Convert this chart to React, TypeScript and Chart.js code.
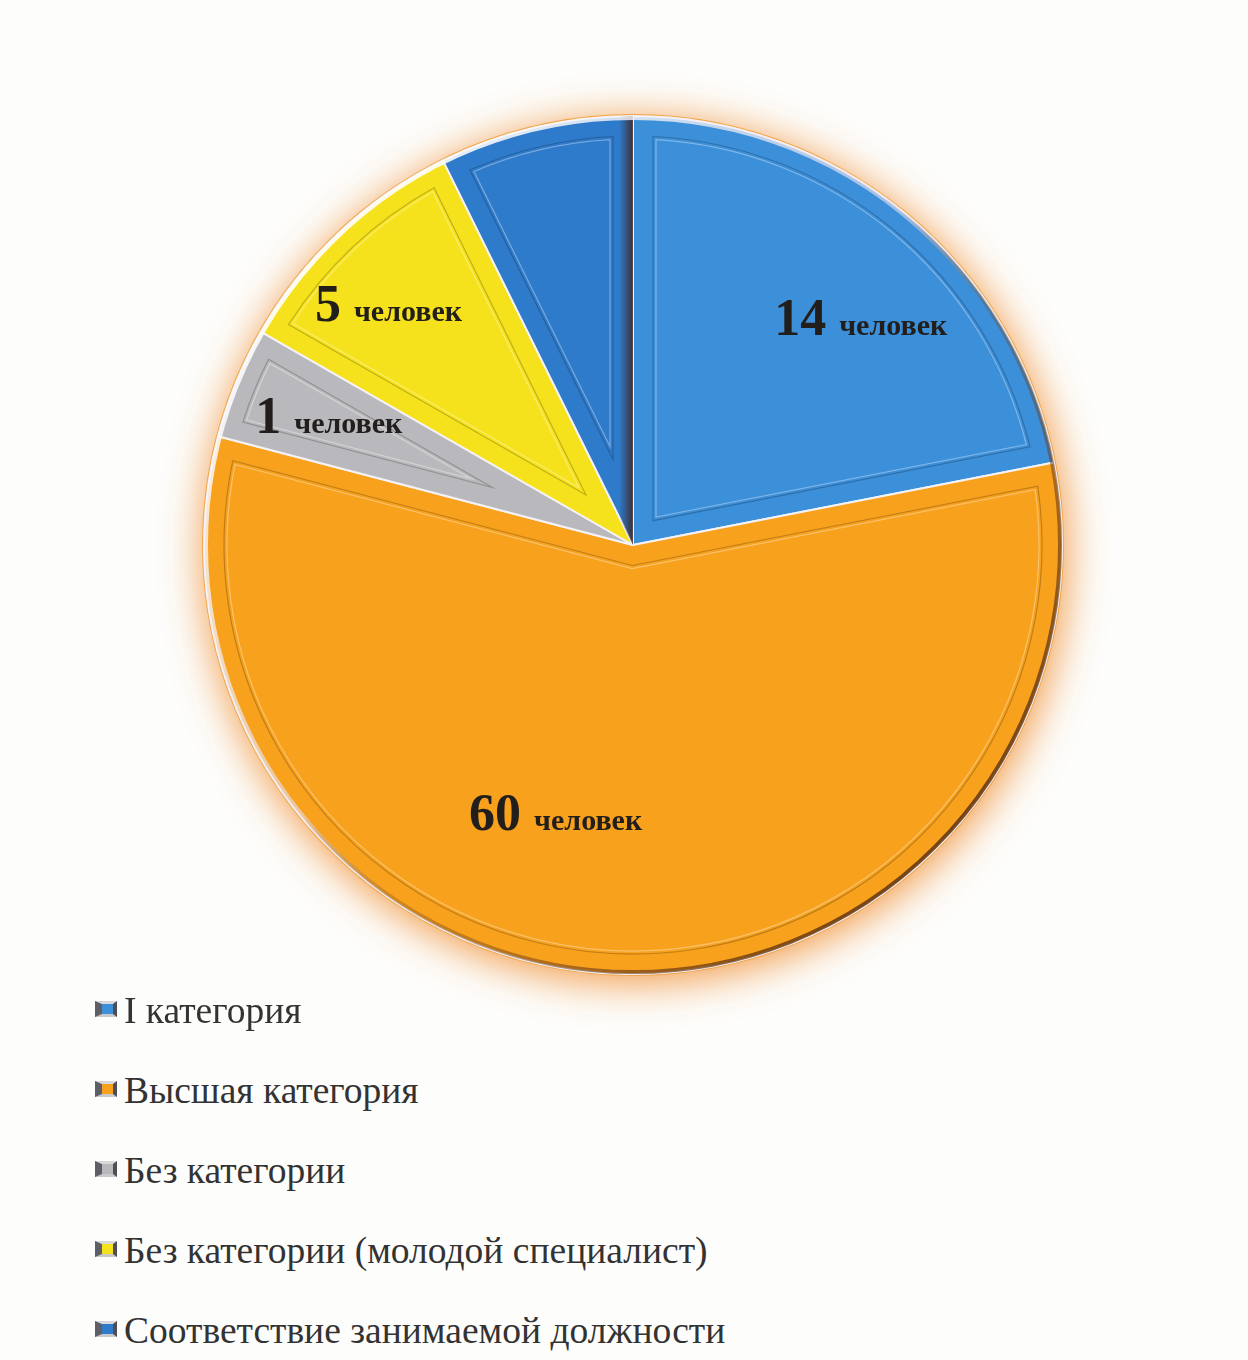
import React, { useEffect, useRef } from "react";
import { Chart, registerables } from "chart.js";

Chart.register(...registerables);

// ---- data ----
const CATEGORIES = [
  "I категория",
  "Высшая категория",
  "Без категории",
  "Без категории (молодой специалист)",
  "Соответствие занимаемой должности",
];
// slice sizes (percent of the circle) as drawn
const SHARES = [21.9, 57.1, 4.2, 9.4, 7.3];
// numbers printed on the slices
const PEOPLE: (number | null)[] = [14, 60, 1, 5, null];
const UNIT = "человек";

// ---- styles ----
const COLORS = ["#3c8fd9", "#f7a11d", "#b9b9bd", "#f6e21c", "#2f7bcb"];
const LABEL_RADIUS = [0.75, 0.65, 0.77, 0.8, 0];
const LABEL_ANGLE_SHIFT = [5.6, 14.3, 0.7, -2.2, 0];
const FONT = "'Liberation Serif', 'Times New Roman', serif";

const decorPlugin = {
  id: "decor",
  beforeDatasetsDraw(chart: any) {
    const meta = chart.getDatasetMeta(0);
    const a0 = meta.data[0];
    if (!a0) return;
    const { x, y, outerRadius } = a0.getProps(["x", "y", "outerRadius"], true);
    const ctx = chart.ctx as CanvasRenderingContext2D;
    ctx.save();
    ctx.shadowColor = "rgba(240,140,45,0.9)";
    ctx.shadowBlur = 40;
    ctx.shadowOffsetX = 2;
    ctx.shadowOffsetY = 6;
    ctx.fillStyle = "#f2a548";
    ctx.beginPath();
    ctx.arc(x, y, outerRadius + 2, 0, Math.PI * 2);
    ctx.fill();
    ctx.restore();
  },
  afterDatasetsDraw(chart: any) {
    const meta = chart.getDatasetMeta(0);
    const ctx = chart.ctx as CanvasRenderingContext2D;
    const arcs = meta.data;
    if (!arcs.length) return;
    const { x: cx, y: cy, outerRadius: R } = arcs[0].getProps(["x", "y", "outerRadius"], true);

    // inner bevel outline of each slice
    const insetPath = (a0: number, a1: number, d: number) => {
      const half = (a1 - a0) / 2;
      const mid = a0 + half;
      const rho = R - d;
      const t = Math.sqrt(rho * rho - d * d);
      const dv = d / Math.sin(half);
      const vx = cx + Math.cos(mid) * dv;
      const vy = cy + Math.sin(mid) * dv;
      const delta = Math.atan2(d, t);
      ctx.beginPath();
      ctx.moveTo(vx, vy);
      ctx.lineTo(cx + Math.cos(a0 + delta) * rho, cy + Math.sin(a0 + delta) * rho);
      ctx.arc(cx, cy, rho, a0 + delta, a1 - delta);
      ctx.closePath();
    };
    arcs.forEach((arc: any) => {
      const { startAngle, endAngle } = arc.getProps(["startAngle", "endAngle"], true);
      ctx.save();
      ctx.lineWidth = 1.2;
      ctx.strokeStyle = "rgba(0,0,0,0.22)";
      insetPath(startAngle, endAngle, 20);
      ctx.stroke();
      ctx.strokeStyle = "rgba(255,255,255,0.35)";
      insetPath(startAngle, endAngle, 23);
      ctx.stroke();
      ctx.restore();
    });

    // dark shading along the 12 o'clock edge (inside the last slice)
    const last = arcs[arcs.length - 1];
    const { startAngle: ls, endAngle: le } = last.getProps(["startAngle", "endAngle"], true);
    ctx.save();
    ctx.beginPath();
    ctx.moveTo(cx, cy);
    ctx.arc(cx, cy, R, ls, le);
    ctx.closePath();
    ctx.clip();
    const nx = Math.sin(le), ny = -Math.cos(le);
    const g = ctx.createLinearGradient(cx, cy, cx + nx * 14, cy + ny * 14);
    g.addColorStop(0, "rgba(60,35,30,0.85)");
    g.addColorStop(0.4, "rgba(60,35,30,0.5)");
    g.addColorStop(1, "rgba(60,35,30,0)");
    ctx.fillStyle = g;
    ctx.fillRect(cx - R, cy - R, 2 * R, 2 * R);
    ctx.restore();

    // outer rim: light upper-left, dark lower-right
    ctx.save();
    const rg = ctx.createLinearGradient(cx - R * 0.7, cy - R * 0.7, cx + R * 0.7, cy + R * 0.7);
    rg.addColorStop(0, "rgba(255,255,255,0.9)");
    rg.addColorStop(0.45, "rgba(230,220,235,0.6)");
    rg.addColorStop(0.6, "rgba(120,70,30,0.3)");
    rg.addColorStop(1, "rgba(90,45,15,0.8)");
    ctx.strokeStyle = rg;
    ctx.lineWidth = 4;
    ctx.beginPath();
    ctx.arc(cx, cy, R - 2, 0, Math.PI * 2);
    ctx.stroke();
    ctx.restore();

    // labels
    arcs.forEach((arc: any, i: number) => {
      const n = PEOPLE[i];
      if (n === null || n === undefined) return;
      const { startAngle, endAngle } = arc.getProps(["startAngle", "endAngle"], true);
      const ang = (startAngle + endAngle) / 2 + (LABEL_ANGLE_SHIFT[i] * Math.PI) / 180;
      const px = cx + Math.cos(ang) * R * LABEL_RADIUS[i];
      const py = cy + Math.sin(ang) * R * LABEL_RADIUS[i];
      ctx.save();
      ctx.fillStyle = "#221e1b";
      ctx.textBaseline = "alphabetic";
      ctx.textAlign = "left";
      const numFont = `bold 52px ${FONT}`;
      const wordFont = `bold 30px ${FONT}`;
      ctx.font = numFont;
      const nw = ctx.measureText(String(n)).width;
      ctx.font = wordFont;
      const ww = ctx.measureText(UNIT).width;
      const gap = 13;
      const total = nw + gap + ww;
      const left = px - total / 2;
      const base = py + 17;
      ctx.font = numFont;
      ctx.fillText(String(n), left, base);
      ctx.font = wordFont;
      ctx.fillText(UNIT, left + nw + gap, base);
      ctx.restore();
    });
  },
};

export default function App() {
  const canvasRef = useRef<HTMLCanvasElement | null>(null);

  useEffect(() => {
    if (!canvasRef.current) return;
    const chart = new Chart(canvasRef.current, {
      type: "pie",
      data: {
        labels: CATEGORIES,
        datasets: [
          {
            data: SHARES,
            backgroundColor: COLORS,
            borderColor: "#f4f2f6",
            borderWidth: 2,
          },
        ],
      },
      options: {
        animation: false,
        responsive: true,
        maintainAspectRatio: false,
        layout: { padding: { top: 115, bottom: 85, left: 203, right: 185 } },
        plugins: {
          legend: { display: false },
          tooltip: { enabled: false },
        },
      },
      plugins: [decorPlugin],
    });
    return () => chart.destroy();
  }, []);

  return (
    <div
      style={{
        position: "absolute",
        left: 0,
        top: 0,
        width: 1248,
        height: 1360,
        background: "#fdfdfb",
        overflow: "hidden",
      }}
    >
      <div style={{ position: "absolute", left: 0, top: 0, width: 1248, height: 1060 }}>
        <canvas ref={canvasRef} />
      </div>
      {CATEGORIES.map((c, i) => (
        <div
          key={c}
          style={{
            position: "absolute",
            left: 95,
            top: 1010 + i * 80 - 22,
            height: 44,
            display: "flex",
            alignItems: "center",
            fontFamily: FONT,
            fontSize: 37.5,
            color: "#333",
            whiteSpace: "nowrap",
          }}
        >
          <span
            style={{
              display: "inline-block",
              width: 22,
              height: 16,
              boxSizing: "border-box",
              background: COLORS[i],
              borderLeft: "7px solid #5e5e66",
              borderRight: "4px solid #4e4e55",
              borderTop: "3px solid #d9d9dc",
              borderBottom: "3px solid #c9c9cc",
              marginRight: 7,
              marginTop: -2,
            }}
          />
          <span>{c}</span>
        </div>
      ))}
    </div>
  );
}
